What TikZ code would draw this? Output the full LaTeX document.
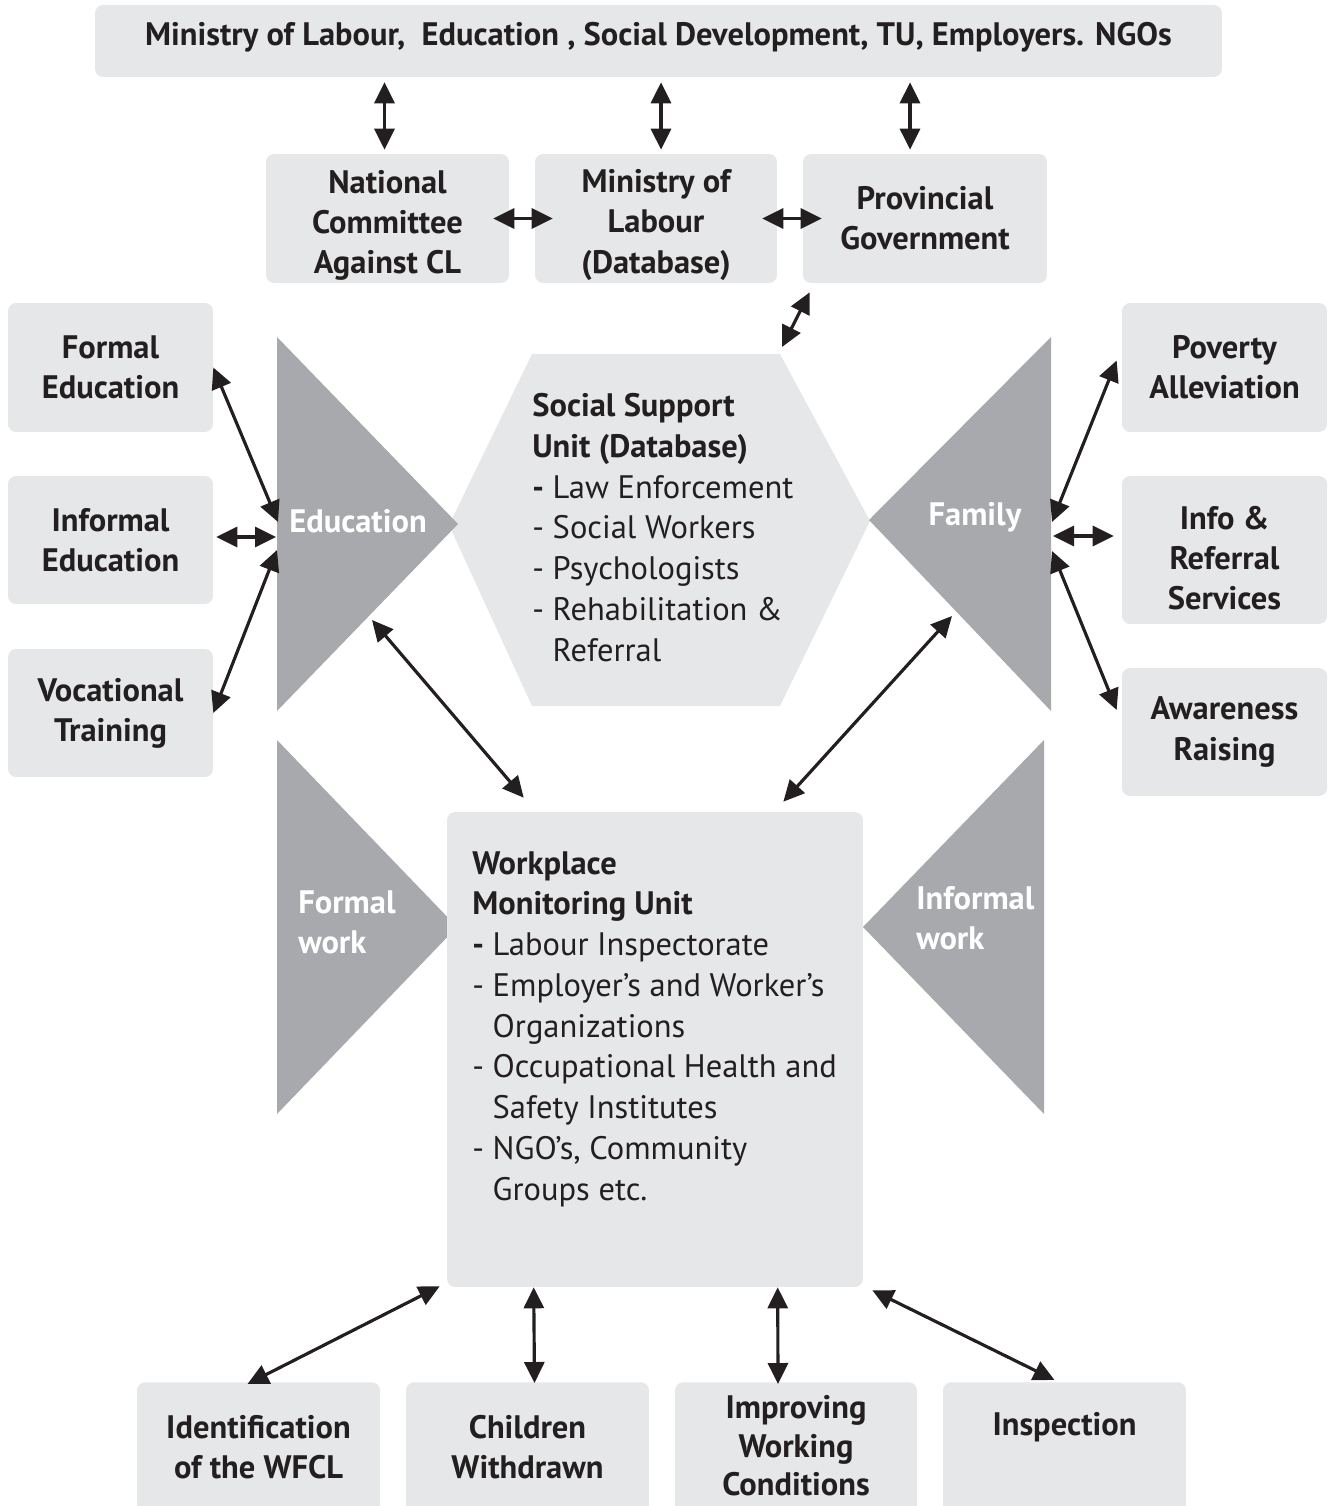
\documentclass[tikz,border=0pt]{standalone}
\usepackage{fontspec}
\setmainfont{PT Sans}
\usetikzlibrary{arrows.meta,calc}
\definecolor{boxgray}{HTML}{E6E7E8}
\definecolor{wedgegray}{HTML}{A7A9AC}
\definecolor{ink}{HTML}{231F20}
\begin{document}
\begin{tikzpicture}[x=0.02cm, y=-0.02cm,
    box/.style={fill=boxgray, rounded corners=0.16cm, inner sep=0pt, align=center,
        text=ink, font=\fontsize{18.5}{22.8}\selectfont\bfseries},
    boxtext/.style={inner sep=0pt, align=center, text=ink, font=\fontsize{18.5}{22.8}\selectfont\bfseries},
    listtext/.style={inner sep=0pt, align=left, text=ink, font=\fontsize{18.5}{23.2}\selectfont},
    tag/.style={inner sep=0pt, align=left, text=white, font=\fontsize{18.5}{22.8}\selectfont\bfseries},
    wedge/.style={fill=wedgegray},
    link/.style={draw=ink, line width=1.8pt,
        {Triangle[length=0.42cm,width=0.4cm]}-{Triangle[length=0.42cm,width=0.4cm]}}]
        \useasboundingbox (0,0) rectangle (1328,1506);
        \clip (0,0) rectangle (1328,1506);
        % top rows
        \node[box, minimum width=22.54cm, minimum height=1.44cm] (top) at (658.5,41) {};
        \node[boxtext] (topt) at (658.5,37)
            {Ministry of Labour,\ \ Education , Social Development, TU, Employers. NGOs};
        \node[box, minimum width=4.86cm, minimum height=2.58cm] (nc) at (387.5,218.5) {};
        \node[boxtext] (nct) at (387.5,225) {National\\Committee\\Against CL};
        \node[box, minimum width=4.84cm, minimum height=2.58cm] (ml) at (656,218.5) {};
        \node[boxtext] (mlt) at (656,225) {Ministry of\\Labour\\(Database)};
        \node[box, minimum width=4.88cm, minimum height=2.58cm] (pg) at (925,218.5) {Provincial\\Government};
        % side boxes
        \node[box, minimum width=4.1cm, minimum height=2.58cm] (fe) at (110.5,367.5) {Formal\\Education};
        \node[box, minimum width=4.1cm, minimum height=2.56cm] (ie) at (110.5,540) {Informal\\Education};
        \node[box, minimum width=4.1cm, minimum height=2.56cm] (vt) at (110.5,713) {Vocational\\Training};
        \node[box, minimum width=4.1cm, minimum height=2.58cm] (pa) at (1224.5,367.5) {Poverty\\Alleviation};
        \node[box, minimum width=4.1cm, minimum height=2.96cm] (ir) at (1224.5,550) {};
        \node[boxtext] (irt) at (1224.5,558) {Info \&\\Referral\\Services};
        \node[box, minimum width=4.1cm, minimum height=2.56cm] (ar) at (1224.5,732) {Awareness\\Raising};
        % social support unit
        \fill[boxgray] (532,354) -- (780,354) -- (870,521) -- (780,706) -- (532,706) -- (449,525) -- cycle;
        \node[listtext, anchor=north west] (ssu) at (532,393)
            {\textbf{Social Support}\\\textbf{Unit (Database)}\\\textbf{-} Law Enforcement\\- Social Workers\\
             - Psychologists\\- Rehabilitation \&\\\phantom{- }Referral};
        % wedges
        \fill[wedge] (277,337) -- (458,524) -- (277,711) -- cycle;
        \fill[wedge] (1051,337) -- (869,520) -- (1051,711) -- cycle;
        \fill[wedge] (277,740) -- (457,927) -- (277,1114) -- cycle;
        \fill[wedge] (1044,740) -- (863,927) -- (1044,1114) -- cycle;
        \node[tag] (edu) at (358,521) {Education};
        \node[tag] (fam) at (975,517) {Family};
        \node[tag, anchor=west] (fw) at (298,922) {Formal\\work};
        \node[tag, anchor=west] (iw) at (916,918) {Informal\\work};
        % workplace monitoring unit
        \node[box, minimum width=8.32cm, minimum height=9.5cm] (wm) at (655,1049.5) {};
        \node[listtext, anchor=north west] (wmt) at (472,851)
            {\textbf{Workplace}\\\textbf{Monitoring Unit}\\\textbf{-} Labour Inspectorate\\- Employer’s and Worker’s\\
             \phantom{- }Organizations\\- Occupational Health and\\\phantom{- }Safety Institutes\\
             - NGO's, Community\\\phantom{- }Groups etc.};
        % bottom row
        \node[box, anchor=north, minimum width=4.86cm, minimum height=3cm] (idw) at (258.5,1382) {};
        \node[box, anchor=north, minimum width=4.86cm, minimum height=3cm] (cw) at (527.5,1382) {};
        \node[box, anchor=north, minimum width=4.84cm, minimum height=3cm] (iwc) at (796,1382) {};
        \node[box, anchor=north, minimum width=4.86cm, minimum height=3cm] (insp) at (1064.5,1382) {};
        \node[boxtext] (idwt) at (258.5,1447) {Identification\\of the WFCL};
        \node[boxtext] (cwt) at (527.5,1447) {Children\\Withdrawn};
        \node[boxtext, font=\fontsize{18.5}{22}\selectfont\bfseries] (iwct) at (796,1446) {Improving\\Working\\Conditions};
        \node[boxtext] (inspt) at (1064.5,1427) {Inspection};
        % arrow ends on the shapes
        \coordinate (eduA) at (278,522);
        \coordinate (eduB) at (276,537);
        \coordinate (eduC) at (277,550);
        \coordinate (eduD) at (372,620);
        \coordinate (famA) at (1052,522);
        \coordinate (famB) at (1053,536);
        \coordinate (famC) at (1052,551);
        \coordinate (famD) at (952,616);
        \coordinate (ssuT) at (782,347);
        % links
        \draw[link] ($(top.south -| nc.north)+(-3,5)$) -- ($(nc.north)+(-3,-4)$);
        \draw[link] ($(top.south -| ml.north)+(5,5)$) -- ($(ml.north)+(5,-4)$);
        \draw[link] ($(top.south -| pg.north)+(-15,5)$) -- ($(pg.north)+(-15,-4)$);
        \draw[link] ($(nc.east)+(-16,0)$) -- ($(ml.west)+(18,0)$);
        \draw[link] ($(ml.east)+(-15,0)$) -- ($(pg.west)+(19,0)$);
        \draw[link] ($(pg.south west)+(7,9)$) -- (ssuT);
        \draw[link] (fe.east) -- (eduA);
        \draw[link] ($(ie.east)+(3,-3)$) -- (eduB);
        \draw[link] (vt.east) -- (eduC);
        \draw[link] (famA) -- ($(pa.west)+(-5,-7)$);
        \draw[link] (famB) -- ($(ir.west)+(-8,-14)$);
        \draw[link] (famC) -- ($(ar.west)+(-5,-22)$);
        \draw[link] (eduD) -- ($(wm.north west)+(77,-14)$);
        \draw[link] (famD) -- ($(wm.north east)+(-80,-10)$);
        \draw[link] ($(wm.south west)+(-7,-1)$) -- ($(idw.north)+(-11,2)$);
        \draw[link] ($(wm.south west)+(87,0)$) -- ($(cw.north)+(7,1)$);
        \draw[link] ($(wm.south west)+(331,0)$) -- ($(iwc.north)+(-18,2)$);
        \draw[link] ($(wm.south east)+(9,3)$) -- ($(insp.north)+(-10,-2)$);
\end{tikzpicture}
\end{document}
